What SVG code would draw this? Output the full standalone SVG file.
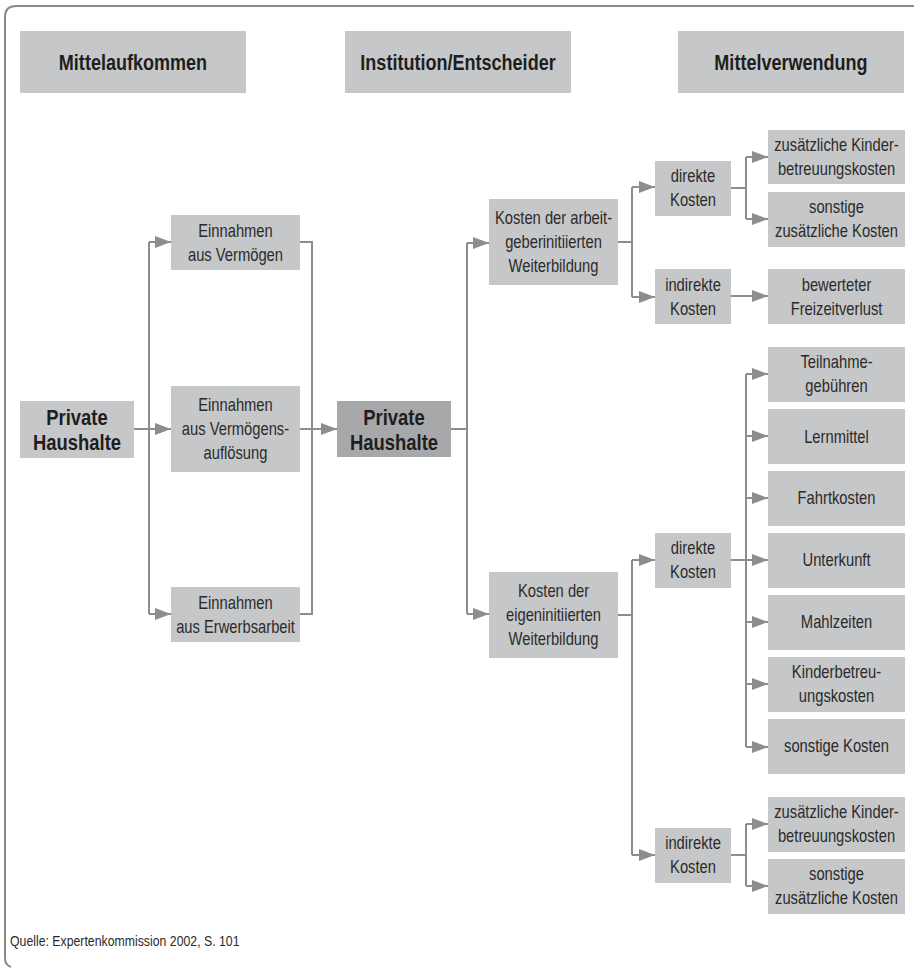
<svg xmlns="http://www.w3.org/2000/svg" width="914" height="968" viewBox="0 0 914 968">
  <style>
    .box { fill: #c6c7c8; }
    .dark { fill: #a7a8aa; }
    .t { font-family: "Liberation Sans", Arial, sans-serif; font-size: 18px; fill: #2b2b2b; text-anchor: middle;
         transform-box: fill-box; transform-origin: center; transform: scaleX(0.82); }
    .b { font-weight: bold; font-size: 22.5px; fill: #1e1e1e; }
    .h { font-weight: bold; font-size: 22px; fill: #1e1e1e; }
    .src { font-family: "Liberation Sans", Arial, sans-serif; font-size: 15px; fill: #2b2b2b;
           transform-box: fill-box; transform-origin: left center; transform: scaleX(0.82); }
    .ln { fill: none; stroke: #8d8d8d; stroke-width: 2; }
    .ar { fill: none; stroke: #8d8d8d; stroke-width: 2; marker-end: url(#head); }
  </style>
  <defs>
    <marker id="head" markerUnits="userSpaceOnUse" markerWidth="16" markerHeight="12" refX="16" refY="6" orient="auto">
      <path d="M0,0 L16,6 L0,12 z" fill="#8d8d8d"/>
    </marker>
  </defs>

  <rect width="914" height="968" fill="#ffffff"/>
  <!-- outer frame: top and left edges only -->
  <path d="M914,6 H16 Q5,6 5,17 V958 Q5,965 11,967" fill="none" stroke="#8a8a8a" stroke-width="2"/>

  <!-- column headers -->
  <g id="hdr-aufkommen"><rect class="box" x="20" y="31" width="226" height="62"/><text class="t h" x="133" y="70">Mittelaufkommen</text></g>
  <g id="hdr-institution"><rect class="box" x="345" y="31" width="226" height="62"/><text class="t h" x="458" y="70">Institution/Entscheider</text></g>
  <g id="hdr-verwendung"><rect class="box" x="678" y="31" width="226" height="62"/><text class="t h" x="791" y="70">Mittelverwendung</text></g>

  <!-- connectors -->
  <g id="connectors">
    <path class="ar" d="M134,429 H171"/>
    <path class="ln" d="M149,242 V614"/>
    <path class="ar" d="M149,242 H171"/>
    <path class="ar" d="M149,614 H171"/>
    <path class="ln" d="M300,242 H312 V614 H300"/>
    <path class="ar" d="M300,429 H337"/>

    <path class="ln" d="M451,429 H467"/>
    <path class="ln" d="M467,243 V614"/>
    <path class="ar" d="M467,243 H489"/>
    <path class="ar" d="M467,614 H489"/>

    <path class="ln" d="M618,242 H632"/>
    <path class="ln" d="M632,187 V297"/>
    <path class="ar" d="M632,187 H655"/>
    <path class="ar" d="M632,297 H655"/>
    <path class="ln" d="M731,188 H746"/>
    <path class="ln" d="M746,157 V219"/>
    <path class="ar" d="M746,157 H768"/>
    <path class="ar" d="M746,219 H768"/>
    <path class="ar" d="M731,296 H768"/>

    <path class="ln" d="M618,615 H632"/>
    <path class="ln" d="M632,560 V855"/>
    <path class="ar" d="M632,560 H655"/>
    <path class="ar" d="M632,855 H655"/>
    <path class="ln" d="M746,374 V747"/>
    <path class="ar" d="M746,374 H768"/>
    <path class="ar" d="M746,436 H768"/>
    <path class="ar" d="M746,498 H768"/>
    <path class="ar" d="M731,560 H768"/>
    <path class="ar" d="M746,622 H768"/>
    <path class="ar" d="M746,684 H768"/>
    <path class="ar" d="M746,747 H768"/>
    <path class="ln" d="M731,855 H746"/>
    <path class="ln" d="M746,824 V886"/>
    <path class="ar" d="M746,824 H768"/>
    <path class="ar" d="M746,886 H768"/>
  </g>

  <!-- sources of funds -->
  <g id="ph-left"><rect class="box" x="20" y="401" width="114" height="57"/><text class="t b" x="77" y="425">Private</text><text class="t b" x="77" y="450">Haushalte</text></g>
  <g id="ein-vermoegen"><rect class="box" x="171" y="215" width="129" height="55"/><text class="t" x="235.5" y="237">Einnahmen</text><text class="t" x="235.5" y="261">aus Vermögen</text></g>
  <g id="ein-aufloesung"><rect class="box" x="171" y="386" width="129" height="86"/><text class="t" x="235.5" y="411">Einnahmen</text><text class="t" x="235.5" y="435">aus Vermögens-</text><text class="t" x="235.5" y="459">auflösung</text></g>
  <g id="ein-erwerb"><rect class="box" x="171" y="587" width="129" height="55"/><text class="t" x="235.5" y="609">Einnahmen</text><text class="t" x="235.5" y="633">aus Erwerbsarbeit</text></g>

  <!-- decision maker -->
  <g id="ph-mid"><rect class="dark" x="337" y="401" width="114" height="56"/><text class="t b" x="394" y="425">Private</text><text class="t b" x="394" y="450">Haushalte</text></g>

  <!-- employer-initiated training -->
  <g id="k-arbeitgeber"><rect class="box" x="489" y="199" width="129" height="86"/><text class="t" x="553.5" y="224">Kosten der arbeit-</text><text class="t" x="553.5" y="248">geberinitiierten</text><text class="t" x="553.5" y="272">Weiterbildung</text></g>
  <g id="ag-direkt"><rect class="box" x="655" y="161" width="76" height="55"/><text class="t" x="693" y="182">direkte</text><text class="t" x="693" y="206">Kosten</text></g>
  <g id="ag-indirekt"><rect class="box" x="655" y="269" width="76" height="55"/><text class="t" x="693" y="291">indirekte</text><text class="t" x="693" y="315">Kosten</text></g>
  <g id="ag-kinder"><rect class="box" x="768" y="130" width="137" height="54"/><text class="t" x="836.5" y="151">zusätzliche Kinder-</text><text class="t" x="836.5" y="175">betreuungskosten</text></g>
  <g id="ag-sonstige"><rect class="box" x="768" y="192" width="137" height="55"/><text class="t" x="836.5" y="213">sonstige</text><text class="t" x="836.5" y="237">zusätzliche Kosten</text></g>
  <g id="ag-freizeit"><rect class="box" x="768" y="269" width="137" height="55"/><text class="t" x="836.5" y="291">bewerteter</text><text class="t" x="836.5" y="315">Freizeitverlust</text></g>

  <!-- self-initiated training -->
  <g id="k-eigen"><rect class="box" x="489" y="572" width="129" height="86"/><text class="t" x="553.5" y="597">Kosten der</text><text class="t" x="553.5" y="621">eigeninitiierten</text><text class="t" x="553.5" y="645">Weiterbildung</text></g>
  <g id="ei-direkt"><rect class="box" x="655" y="533" width="76" height="55"/><text class="t" x="693" y="554">direkte</text><text class="t" x="693" y="578">Kosten</text></g>
  <g id="ei-indirekt"><rect class="box" x="655" y="828" width="76" height="55"/><text class="t" x="693" y="849">indirekte</text><text class="t" x="693" y="873">Kosten</text></g>
  <g id="ei-teilnahme"><rect class="box" x="768" y="347" width="137" height="55"/><text class="t" x="836.5" y="368">Teilnahme-</text><text class="t" x="836.5" y="392">gebühren</text></g>
  <g id="ei-lernmittel"><rect class="box" x="768" y="409" width="137" height="55"/><text class="t" x="836.5" y="443">Lernmittel</text></g>
  <g id="ei-fahrt"><rect class="box" x="768" y="471" width="137" height="55"/><text class="t" x="836.5" y="504">Fahrtkosten</text></g>
  <g id="ei-unterkunft"><rect class="box" x="768" y="533" width="137" height="55"/><text class="t" x="836.5" y="566">Unterkunft</text></g>
  <g id="ei-mahlzeiten"><rect class="box" x="768" y="595" width="137" height="55"/><text class="t" x="836.5" y="628">Mahlzeiten</text></g>
  <g id="ei-kinder"><rect class="box" x="768" y="657" width="137" height="55"/><text class="t" x="836.5" y="678">Kinderbetreu-</text><text class="t" x="836.5" y="702">ungskosten</text></g>
  <g id="ei-sonstige"><rect class="box" x="768" y="719" width="137" height="55"/><text class="t" x="836.5" y="752">sonstige Kosten</text></g>
  <g id="ei-kinder2"><rect class="box" x="768" y="797" width="137" height="55"/><text class="t" x="836.5" y="818">zusätzliche Kinder-</text><text class="t" x="836.5" y="842">betreuungskosten</text></g>
  <g id="ei-sonstige2"><rect class="box" x="768" y="859" width="137" height="55"/><text class="t" x="836.5" y="880">sonstige</text><text class="t" x="836.5" y="904">zusätzliche Kosten</text></g>

  <text class="src" x="10" y="946">Quelle: Expertenkommission 2002, S. 101</text>
</svg>
